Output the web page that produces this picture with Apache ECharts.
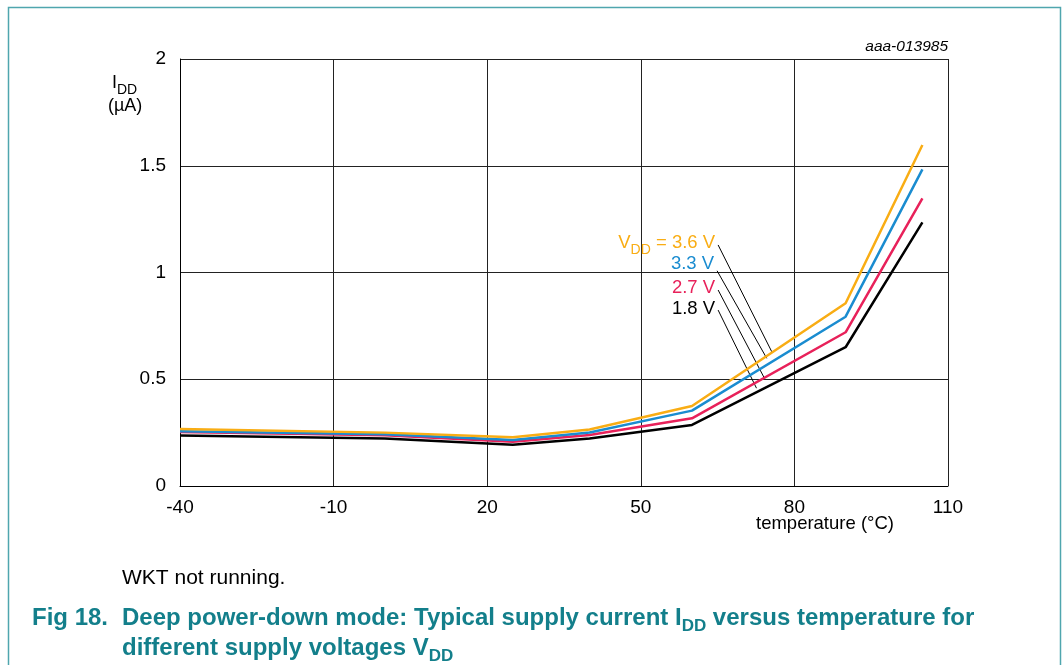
<!DOCTYPE html>
<html>
<head>
<meta charset="utf-8">
<script src="https://cdn.jsdelivr.net/npm/echarts@6/dist/echarts.min.js"></script>
<style>
  html, body { margin: 0; padding: 0; background: #fff; }
  #chart { width: 1064px; height: 665px; }
</style>
</head>
<body>
<div id="chart"></div>
<script>
// Temperature points (°C) and typical deep power-down supply current (µA)
const temps = [-40, 0, 25, 40, 60, 90, 105];
const idd36 = [0.267, 0.250, 0.228, 0.265, 0.375, 0.856, 1.597];
const idd33 = [0.257, 0.242, 0.215, 0.251, 0.353, 0.793, 1.483];
const idd27 = [0.253, 0.238, 0.207, 0.239, 0.317, 0.720, 1.347];
const idd18 = [0.236, 0.222, 0.193, 0.223, 0.286, 0.650, 1.235];

const seriesNames = ['3.6 V', '3.3 V', '2.7 V', '1.8 V'];
const seriesColors = ['#f9ad14', '#1a8cd0', '#e8215a', '#000000'];

// Leader line anchors (label end -> curve), in data units
const leaderFrom = [[65.1, 1.129], [64.9, 1.008], [65.1, 0.918], [65.1, 0.824]];
const leaderTo = [[75.6, 0.628], [74.6, 0.598], [74.1, 0.507], [72.6, 0.458]];

const xTicks = { min: -40, max: 110, step: 30 };
const yTicks = { min: 0, max: 2, step: 0.5 };

const FONT = 'Arial, "Liberation Sans", Helvetica, sans-serif';
const TEAL = '#137f8b';

// Vertical nudge of each curve label relative to its leader start (px)
const labelDy = [-1, -6, -1, 0];

const chart = echarts.init(document.getElementById('chart'), null, { renderer: 'canvas' });

const values = [idd36, idd33, idd27, idd18];

const series = values.map((vals, i) => ({
  name: seriesNames[i],
  type: 'line',
  data: temps.map((t, k) => [t, vals[k]]),
  showSymbol: false,
  symbol: 'none',
  z: 10 - i,
  lineStyle: { color: seriesColors[i], width: 2.5 },
  animation: false,
  markLine: {
    silent: true,
    symbol: ['none', 'none'],
    animation: false,
    label: { show: false },
    lineStyle: { color: '#000', width: 1, type: 'solid' },
    data: [[{ coord: leaderFrom[i] }, { coord: leaderTo[i] }]]
  }
}));

const option = {
  animation: false,
  backgroundColor: '#fff',
  grid: { left: 180, right: 116, top: 59, bottom: 179, containLabel: false },
  xAxis: {
    type: 'value',
    min: xTicks.min, max: xTicks.max, interval: xTicks.step,
    axisLine: { show: true, onZero: false, lineStyle: { color: '#000', width: 1 } },
    axisTick: { show: false },
    axisLabel: { color: '#000', fontSize: 19, fontFamily: FONT, margin: 12 },
    splitLine: { show: true, lineStyle: { color: '#222', width: 1 } }
  },
  yAxis: {
    type: 'value',
    min: yTicks.min, max: yTicks.max, interval: yTicks.step,
    axisLine: { show: true, onZero: false, lineStyle: { color: '#000', width: 1 } },
    axisTick: { show: false },
    axisLabel: { color: '#000', fontSize: 19, fontFamily: FONT, margin: 14 },
    splitLine: { show: true, lineStyle: { color: '#222', width: 1 } }
  },
  series: series
};

chart.setOption(option);

// Rich-text styles with lowered subscripts
function subStyle(size, subSize, color, weight) {
  return {
    n: { fontSize: size, fontFamily: FONT, fontWeight: weight, lineHeight: size + 5, verticalAlign: 'top', fill: color },
    s: { fontSize: subSize, fontFamily: FONT, fontWeight: weight, lineHeight: subSize, verticalAlign: 'bottom', fill: color }
  };
}

const graphics = [
  {
    type: 'rect', silent: true, z: 0,
    shape: { x: 8.5, y: 7.5, width: 1052, height: 720 },
    style: { fill: 'none', stroke: '#4fa6ae', lineWidth: 1.5 }
  },
  {
    type: 'text', left: 112, top: 74,
    style: { text: '{n|I}{s|DD}', rich: subStyle(18, 14, '#000', 'normal') }
  },
  {
    type: 'text', left: 108, top: 97,
    style: { text: '(µA)', fill: '#000', font: '18px ' + FONT }
  },
  {
    type: 'text', left: 756, top: 514,
    style: { text: 'temperature (°C)', fill: '#000', font: '18.5px ' + FONT }
  },
  {
    type: 'text', right: 116, top: 39,
    style: { text: 'aaa-013985', fill: '#000', font: 'italic 15.5px ' + FONT }
  },
  {
    type: 'text', left: 122, top: 568,
    style: { text: 'WKT not running.', fill: '#000', font: '21px ' + FONT }
  },
  {
    type: 'text', left: 32, top: 606,
    style: { text: 'Fig 18.', fill: TEAL, font: 'bold 24px ' + FONT }
  },
  {
    type: 'text', left: 122, top: 606,
    style: {
      text: '{n|Deep power-down mode: Typical supply current I}{s|DD}{n| versus temperature for}',
      rich: subStyle(24, 17, TEAL, 'bold')
    }
  },
  {
    type: 'text', left: 122, top: 636,
    style: {
      text: '{n|different supply voltages V}{s|DD}',
      rich: subStyle(24, 17, TEAL, 'bold')
    }
  }
];

// Curve labels placed at the upper end of each leader line
const labelTexts = ['{n|V}{s|DD}{n| = 3.6 V}', '{n|3.3 V}', '{n|2.7 V}', '{n|1.8 V}'];
leaderFrom.forEach((pt, i) => {
  const p = chart.convertToPixel({ xAxisIndex: 0, yAxisIndex: 0 }, pt);
  graphics.push({
    type: 'text',
    x: p[0] - 3, y: p[1] + 1 + labelDy[i],
    style: {
      text: labelTexts[i],
      align: 'right', verticalAlign: 'middle',
      rich: subStyle(18.5, 14, seriesColors[i], 'normal')
    }
  });
});

chart.setOption({ graphic: graphics });
</script>
</body>
</html>
